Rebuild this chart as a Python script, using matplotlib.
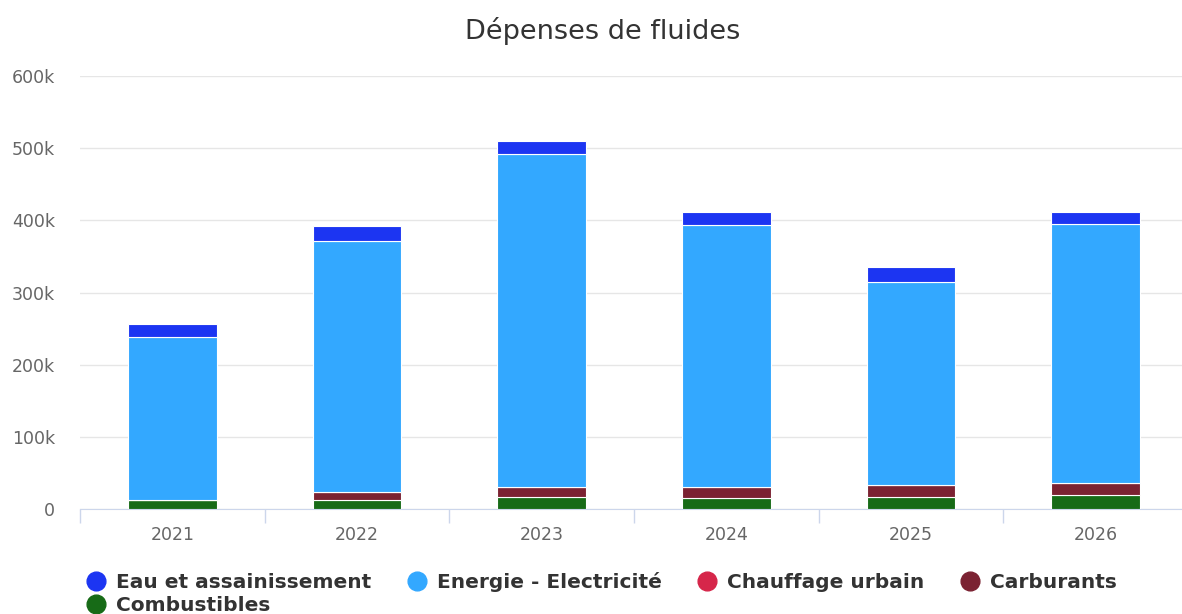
import numpy as np
import matplotlib.pyplot as plt

# === Data (k EUR) ===
years = ["2021", "2022", "2023", "2024", "2025", "2026"]
combustibles = [12.5, 12.5, 17, 15, 17, 19.5]
carburants = [0, 11.5, 14, 16, 16, 16]
chauffage = [0, 0, 0, 0, 0, 0]
energie = [226, 347, 461, 363, 281, 359]
eau = [18, 21, 18, 17, 22, 17]

series = [
    ("Combustibles", combustibles, "#176b17"),
    ("Carburants", carburants, "#7b2232"),
    ("Chauffage urbain", chauffage, "#d6264a"),
    ("Energie - Electricité", energie, "#33a8ff"),
    ("Eau et assainissement", eau, "#1c35f2"),
]

plt.rcParams['font.family'] = ['DejaVu Sans']

fig = plt.figure(figsize=(11.82, 6.14), dpi=100)
ax = fig.add_axes([80 / 1182, 1 - 509 / 614, 1 - 80 / 1182 + 0.005, (509 - 76) / 614])

x = np.arange(len(years))
bottom = np.zeros(len(years))
for name, vals, color in series:
    vals = np.array(vals) * 1000
    ax.bar(x, vals, width=0.48, bottom=bottom, color=color,
           edgecolor="white", linewidth=0.8, zorder=3)
    bottom += vals

ax.set_xlim(-0.5, len(years) - 0.5)
ax.set_ylim(0, 600000)
ax.set_yticks(np.arange(0, 600001, 100000))
ax.set_yticklabels(["0"] + [f"{v}k" for v in range(100, 601, 100)])
ax.grid(axis="y", color="#e6e6e6", linewidth=1, zorder=0)
ax.tick_params(axis="y", length=0, labelsize=12.5, labelcolor="#666666", pad=18)

ax.set_xticks(x)
ax.set_xticklabels(years)
ax.set_xticks(np.arange(-0.5, len(years)), minor=True)
ax.tick_params(axis="x", which="major", length=0, labelsize=12.5, labelcolor="#666666", pad=12)
ax.tick_params(axis="x", which="minor", length=10, color="#ccd6eb", width=1)

for s in ["top", "right", "left"]:
    ax.spines[s].set_visible(False)
ax.spines["bottom"].set_color("#ccd6eb")

fig.text(603 / 1182, 1 - 31 / 614, "Dépenses de fluides", ha="center", va="center",
         fontsize=19.5, color="#333333")

order = ["Eau et assainissement", "Combustibles", "Energie - Electricité",
         "Chauffage urbain", "Carburants"]
colors = {name: c for name, _, c in series}
leg_handles = [plt.Line2D([], [], marker="o", linestyle="", markersize=13.5,
                          color=colors[n]) for n in order]
leg = fig.legend(leg_handles, order, ncol=4, loc="upper left",
                 bbox_to_anchor=(86 / 1182, 1 - 572 / 614), frameon=False,
                 prop={"size": 14.5, "weight": "bold"}, handletextpad=0.5,
                 columnspacing=1.75, labelspacing=0.22, handlelength=1.0,
                 borderaxespad=0, borderpad=0)
for t in leg.get_texts():
    t.set_color("#333333")

fig.savefig("out.png", dpi=100)
